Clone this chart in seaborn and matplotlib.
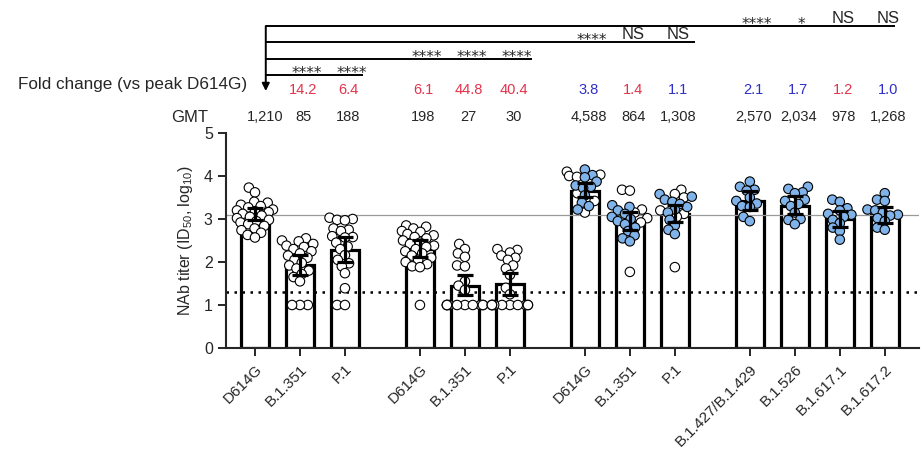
import warnings
import numpy as np
import pandas as pd
import matplotlib
matplotlib.use("Agg")
import matplotlib.pyplot as plt
from matplotlib import transforms
import seaborn as sns

warnings.filterwarnings("ignore")

# ---------------- data ----------------
labels = ["D614G", "B.1.351", "P.1", "D614G", "B.1.351", "P.1",
          "D614G", "B.1.351", "P.1",
          "B.1.427/B.1.429", "B.1.526", "B.1.617.1", "B.1.617.2"]
positions = [0, 1, 2, 3.667, 4.667, 5.667, 7.333, 8.333, 9.333, 11, 12, 13, 14]
gmt = [1210, 85, 188, 198, 27, 30, 4588, 864, 1308, 2570, 2034, 978, 1268]
ci_low = [2.98, 1.70, 2.01, 2.12, 1.23, 1.23, 3.52, 2.74, 2.94, 3.22, 3.11, 2.81, 2.91]
ci_high = [3.25, 2.16, 2.59, 2.51, 1.70, 1.74, 3.83, 3.17, 3.33, 3.64, 3.53, 3.19, 3.29]
fold_change = ["", "14.2", "6.4", "6.1", "44.8", "40.4", "3.8", "1.4", "1.1",
               "2.1", "1.7", "1.2", "1.0"]
fold_dir = ["", "down", "down", "down", "down", "down", "up", "down", "up",
            "up", "up", "down", "up"]
lod = 20

open_points = [
    [3.73, 3.62, 3.40, 3.38, 3.33, 3.30, 3.27, 3.22, 3.20, 3.18, 3.16, 3.12, 3.08,
     3.05, 3.02, 2.98, 2.95, 2.92, 2.88, 2.84, 2.78, 2.74, 2.68, 2.63, 2.57],
    [2.55, 2.50, 2.48, 2.42, 2.38, 2.35, 2.30, 2.25, 2.20, 2.15, 2.10, 2.05, 1.98,
     1.92, 1.85, 1.80, 1.72, 1.65, 1.55, 1.0, 1.0, 1.0],
    [3.03, 3.00, 2.98, 2.97, 2.78, 2.75, 2.72, 2.60, 2.58, 2.57, 2.45, 2.36, 2.30,
     2.16, 2.05, 1.97, 1.90, 1.74, 1.39, 1.0, 1.0],
    [2.85, 2.82, 2.78, 2.72, 2.70, 2.65, 2.62, 2.58, 2.55, 2.50, 2.45, 2.42, 2.38,
     2.35, 2.30, 2.25, 2.20, 2.15, 2.10, 2.05, 2.00, 1.95, 1.90, 1.88, 1.0],
    [2.42, 2.30, 2.20, 2.12, 1.92, 1.90, 1.55, 1.45, 1.35,
     1.0, 1.0, 1.0, 1.0, 1.0, 1.0, 1.0, 1.0, 1.0, 1.0],
    [2.30, 2.28, 2.22, 2.15, 2.10, 2.05, 1.92, 1.85, 1.70, 1.40, 1.25,
     1.0, 1.0, 1.0, 1.0, 1.0, 1.0, 1.0, 1.0, 1.0, 1.0],
    [4.10, 4.03, 4.00, 3.98, 3.60, 3.42, 3.15],
    [3.68, 3.66, 3.22, 3.15, 3.02, 2.92, 1.77],
    [3.68, 3.58, 3.50, 3.20, 3.12, 3.05, 1.88],
    [], [], [], [],
]
filled_points = [
    [], [], [], [], [], [],
    [4.15, 4.02, 3.97, 3.87, 3.78, 3.75, 3.72, 3.55, 3.38, 3.30, 3.22],
    [3.32, 3.28, 3.20, 3.12, 3.05, 3.00, 2.95, 2.88, 2.80, 2.72, 2.62, 2.55, 2.48],
    [3.58, 3.52, 3.45, 3.40, 3.35, 3.28, 3.22, 3.15, 2.98, 2.85, 2.75, 2.65],
    [3.87, 3.75, 3.68, 3.66, 3.50, 3.42, 3.36, 3.30, 3.28, 3.05, 2.95],
    [3.75, 3.70, 3.62, 3.60, 3.45, 3.42, 3.35, 3.30, 3.15, 3.00, 2.98, 2.88],
    [3.45, 3.40, 3.25, 3.20, 3.12, 3.10, 3.05, 2.98, 2.90, 2.80, 2.72, 2.52],
    [3.60, 3.45, 3.42, 3.22, 3.20, 3.15, 3.10, 3.08, 3.02, 2.95, 2.80, 2.75],
]

# significance brackets: (line y from top in px, bar indices, labels, right pad)
brackets = [
    (75, [1, 2], ["****", "****"], 0.40),
    (59, [3, 4, 5], ["****", "****", "****"], 0.50),
    (42, [6, 7, 8], ["****", "NS", "NS"], 0.45),
    (26, [9, 10, 11, 12], ["****", "*", "NS", "NS"], 0.22),
]

# ---------------- style ----------------
sns.set_style("ticks")
plt.rcParams["font.family"] = ["Liberation Sans", "DejaVu Sans"]
plt.rcParams["mathtext.fontset"] = "custom"
plt.rcParams["mathtext.rm"] = "Liberation Sans"
plt.rcParams["mathtext.it"] = "Liberation Sans:italic"

RED = "#e3344c"
BLUE = "#2e2ec8"
PT_BLUE = "#80b3ea"
MARKER = 6.8        # final marker diameter (pt)
SWARM_LAYOUT = 4.6  # diameter used to compute the (overlapping) swarm layout

W, H = 922, 461
fig = plt.figure(figsize=(W / 100, H / 100), dpi=100)
ax = fig.add_axes([226 / W, 1 - 348 / H, (919 - 226) / W, (348 - 133) / H])

log_gmt = np.log10(gmt)
df_bars = pd.DataFrame({"pos": positions, "log_gmt": log_gmt})

rows = []
for p, o, f in zip(positions, open_points, filled_points):
    for v in o:
        rows.append((p, v, "open"))
    for v in f:
        rows.append((p, v, "filled"))
df_pts = pd.DataFrame(rows, columns=["pos", "value", "kind"])

sns.barplot(data=df_bars, x="pos", y="log_gmt", native_scale=True, width=0.63,
            color="white", saturation=1, edgecolor="black", linewidth=2.3,
            errorbar=None, zorder=2, ax=ax)

ax.axhline(log_gmt[0], color="#9a9a9a", lw=0.9, zorder=2.5)
ax.axhline(np.log10(lod), color="black", lw=1.8, ls=(0, (1, 2.2)), zorder=2.5)

n_before = len(ax.collections)
sns.swarmplot(data=df_pts, x="pos", y="value", hue="kind", native_scale=True,
              palette={"open": "white", "filled": PT_BLUE}, size=SWARM_LAYOUT,
              edgecolor="black", linewidth=0.8, legend=False, zorder=3, ax=ax)
swarm_colls = ax.collections[n_before:]

ax.errorbar(positions, log_gmt,
            yerr=[log_gmt - np.array(ci_low), np.array(ci_high) - log_gmt],
            fmt="none", ecolor="black", elinewidth=2.3, capsize=6, capthick=2.3,
            zorder=4)

ax.set_xlim(-0.644, 14.76)
ax.set_ylim(0, 5)
ax.set_yticks([0, 1, 2, 3, 4, 5])
ax.set_xticks(positions)
ax.set_xticklabels(labels, rotation=45, ha="right", va="top",
                   rotation_mode="anchor", fontsize=11)
ax.tick_params(axis="y", labelsize=11.5, length=6, width=1.4)
ax.tick_params(axis="x", length=6, width=1.4, pad=4)
ax.set_xlabel("")
ax.set_ylabel(r"NAb titer (ID$_{50}$, log$_{10}$)", fontsize=11.5, labelpad=6)
for s in ["top", "right"]:
    ax.spines[s].set_visible(False)
for s in ["left", "bottom"]:
    ax.spines[s].set_linewidth(1.5)

# compute the compact swarm layout once, then freeze it and enlarge markers
fig.canvas.draw()
for c in swarm_colls:
    if "draw" in c.__dict__:
        del c.draw
    c.set_sizes([MARKER ** 2])

# ---------------- annotations above ----------------
blend = transforms.blended_transform_factory(ax.transData, fig.transFigure)


def fy(px):
    return 1 - px / H


fig.text(18 / W, fy(84), "Fold change (vs peak D614G)", ha="left", va="center",
         fontsize=12.3)
fig.text(208 / W, fy(117), "GMT", ha="right", va="center", fontsize=12)

for i, (p, g) in enumerate(zip(positions, gmt)):
    off = 0.22 if i == 0 else 0.08
    ax.text(p + off, fy(117), f"{g:,}", transform=blend, ha="center",
            va="center", fontsize=10.5, clip_on=False)
    if fold_change[i]:
        ax.text(p + 0.08, fy(90), fold_change[i], transform=blend, ha="center",
                va="center", fontsize=10.5,
                color=RED if fold_dir[i] == "down" else BLUE, clip_on=False)

x0 = 0.24
for ly, idx, labs, pad in brackets:
    xe = positions[idx[-1]] + pad
    ax.plot([x0, xe], [fy(ly), fy(ly)], transform=blend, color="black",
            lw=1.4, clip_on=False, solid_capstyle="butt")
    for i, lab in zip(idx, labs):
        if lab == "NS":
            ax.text(positions[i] + 0.08, fy(ly - 3), lab, transform=blend,
                    ha="center", va="baseline", fontsize=12, clip_on=False)
        else:
            ax.text(positions[i] + 0.15, fy(ly + 3), lab, transform=blend,
                    ha="center", va="baseline", fontsize=11, clip_on=False,
                    family="DejaVu Sans")

ax.annotate("", xy=(x0, fy(91)), xytext=(x0, fy(26)), xycoords=blend,
            textcoords=blend,
            arrowprops=dict(arrowstyle="-|>", color="black", lw=1.4,
                            mutation_scale=11, shrinkA=0, shrinkB=0))

fig.savefig("out.png", dpi=100)
